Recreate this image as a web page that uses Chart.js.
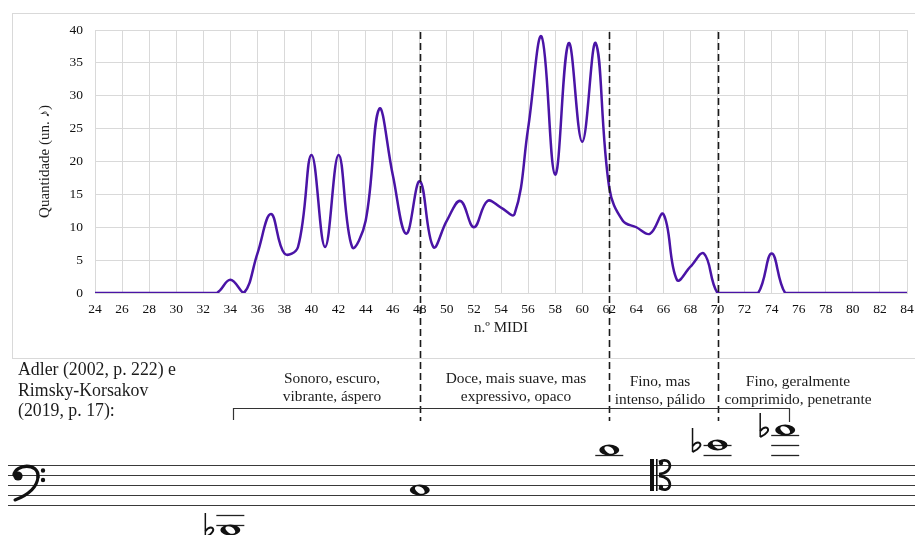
<!DOCTYPE html>
<html lang="pt">
<head>
<meta charset="utf-8">
<script src="https://cdn.jsdelivr.net/npm/chart.js@4.4.1/dist/chart.umd.min.js"></script>
<style>
  html, body { margin: 0; padding: 0; background: #fff; }
  canvas { display: block; }
</style>
</head>
<body>
<canvas id="c" width="915" height="535"></canvas>
<script>
// MIDI note numbers on the horizontal axis
const midiNumbers = [24, 25, 26, 27, 28, 29, 30, 31, 32, 33, 34, 35, 36, 37, 38, 39, 40, 41, 42, 43, 44,
  45, 46, 47, 48, 49, 50, 51, 52, 53, 54, 55, 56, 57, 58, 59, 60, 61, 62, 63, 64, 65, 66, 67, 68, 69, 70,
  71, 72, 73, 74, 75, 76, 77, 78, 79, 80, 81, 82, 83, 84];

// quantity of notes found at each MIDI number
const noteCounts = [0, 0, 0, 0, 0, 0, 0, 0, 0, 0, 2, 0, 6, 12, 6, 7, 21, 7, 21, 7, 11,
  28, 18, 9, 17, 7, 11, 14, 10, 14, 13, 12, 25, 39, 18, 38, 23, 38, 16, 11, 10, 9, 12, 2, 4, 6, 0,
  0, 0, 0, 6, 0, 0, 0, 0, 0, 0, 0, 0, 0, 0];

// register boundaries (MIDI numbers)
const registerBounds = [48, 62, 70];

// timbre description for each register
const registerLabels = [
  ['Sonoro, escuro,', 'vibrante, áspero'],
  ['Doce, mais suave, mas', 'expressivo, opaco'],
  ['Fino, mas', 'intenso, pálido'],
  ['Fino, geralmente', 'comprimido, penetrante']
];

const sourceLines = ['Adler (2002, p. 222) e', 'Rimsky-Korsakov', '(2019, p. 17):'];

// range notes: MIDI number, staff step (half-spaces below top line), flat sign
const rangeMidi = [34, 48, 62, 70, 75];
const rangeSteps = [13, 5, -3, -4, -7];
const rangeFlats = [true, false, false, true, true];

const SERIF = '"Liberation Serif", "Times New Roman", serif';
const INK = '#1c1c1c';

function wholeNote(ctx, x, y) {
  ctx.beginPath();
  ctx.ellipse(x, y, 10, 5.4, 0, 0, Math.PI * 2);
  const r = 0.55;
  ctx.moveTo(x + 5.4 * Math.cos(r), y + 5.4 * Math.sin(r));
  ctx.ellipse(x, y, 5.4, 3.1, r, 0, Math.PI * 2);
  ctx.fill('evenodd');
}

function flatSign(ctx, x, y) {
  ctx.save();
  ctx.lineWidth = 1.5;
  ctx.beginPath();
  ctx.moveTo(x, y - 17);
  ctx.lineTo(x, y + 7);
  ctx.stroke();
  ctx.lineWidth = 2;
  ctx.beginPath();
  ctx.moveTo(x, y + 1);
  ctx.bezierCurveTo(x + 5, y - 5, x + 10, y - 2, x + 7, y + 2);
  ctx.quadraticCurveTo(x + 5, y + 5, x, y + 7);
  ctx.stroke();
  ctx.restore();
}

function bassClef(ctx, x, y) {
  // x: left edge, y: F line
  ctx.save();
  ctx.lineCap = 'round';
  ctx.beginPath();
  ctx.arc(x + 10, y + 1, 4.6, 0, Math.PI * 2);
  ctx.fill();
  ctx.lineWidth = 3.4;
  ctx.beginPath();
  ctx.moveTo(x + 6, y);
  ctx.bezierCurveTo(x + 7, y - 11, x + 31, y - 13, x + 30, y + 2);
  ctx.stroke();
  ctx.lineWidth = 3.0;
  ctx.beginPath();
  ctx.moveTo(x + 30, y + 2);
  ctx.bezierCurveTo(x + 29, y + 13, x + 20, y + 20, x + 7, y + 25);
  ctx.stroke();
  ctx.beginPath();
  ctx.arc(x + 35, y - 4.5, 2.2, 0, Math.PI * 2);
  ctx.arc(x + 35, y + 5, 2.2, 0, Math.PI * 2);
  ctx.fill();
  ctx.restore();
}

function tenorClef(ctx, x, y) {
  // x: left edge, y: C line
  ctx.save();
  ctx.fillRect(x, y - 16, 4, 32);
  ctx.fillRect(x + 6, y - 16, 1.6, 32);
  ctx.lineWidth = 2.6;
  ctx.beginPath();
  ctx.moveTo(x + 9, y - 13);
  ctx.bezierCurveTo(x + 22, y - 20, x + 25, y - 2, x + 9, y - 1);
  ctx.moveTo(x + 9, y + 13);
  ctx.bezierCurveTo(x + 22, y + 20, x + 25, y + 2, x + 9, y + 1);
  ctx.stroke();
  ctx.beginPath();
  ctx.arc(x + 11, y - 12, 2.2, 0, Math.PI * 2);
  ctx.arc(x + 11, y + 12, 2.2, 0, Math.PI * 2);
  ctx.fill();
  ctx.restore();
}

const figureExtras = {
  id: 'figureExtras',
  beforeDraw(chart) {
    const ctx = chart.ctx;
    ctx.save();
    ctx.fillStyle = '#fff';
    ctx.fillRect(0, 0, chart.width, chart.height);
    ctx.strokeStyle = '#d9d9d9';
    ctx.lineWidth = 1;
    ctx.strokeRect(12.5, 13.5, 920, 345);
    ctx.restore();
  },
  afterDraw(chart) {
    const ctx = chart.ctx;
    const xs = chart.scales.x;
    const area = chart.chartArea;
    ctx.save();

    // axis titles
    ctx.fillStyle = INK;
    ctx.font = '15px ' + SERIF;
    ctx.textAlign = 'center';
    ctx.textBaseline = 'middle';
    ctx.fillText('n.º MIDI', (area.left + area.right) / 2, 328);
    ctx.save();
    ctx.translate(45, (area.top + area.bottom) / 2);
    ctx.rotate(-Math.PI / 2);
    ctx.fillText('Quantidade (un. ♪)', 0, 0);
    ctx.restore();

    // register boundaries
    ctx.strokeStyle = '#1a1a1a';
    ctx.lineWidth = 1.6;
    ctx.setLineDash([7, 4]);
    registerBounds.forEach(m => {
      const x = Math.round(xs.getPixelForValue(m)) + 0.5;
      ctx.beginPath();
      ctx.moveTo(x, area.top + 2);
      ctx.lineTo(x, 421);
      ctx.stroke();
    });
    ctx.setLineDash([]);

    // source
    ctx.font = '17.8px ' + SERIF;
    ctx.textAlign = 'left';
    const srcY = [370, 391, 411];
    sourceLines.forEach((t, i) => ctx.fillText(t, 18, srcY[i]));

    // register descriptions
    ctx.font = '15.4px ' + SERIF;
    ctx.textAlign = 'center';
    const labelX = [332, 516, 660, 798];
    const labelY = [[379, 397], [379, 397], [382, 400], [382, 400]];
    registerLabels.forEach((lines, i) => {
      lines.forEach((t, j) => ctx.fillText(t, labelX[i], labelY[i][j]));
    });

    // bracket spanning the range
    const bx0 = Math.round(xs.getPixelForValue(rangeMidi[0])) + 3.5;
    const bx1 = Math.round(xs.getPixelForValue(rangeMidi[rangeMidi.length - 1])) + 4.5;
    ctx.strokeStyle = '#333';
    ctx.lineWidth = 1.2;
    ctx.beginPath();
    ctx.moveTo(bx0, 420);
    ctx.lineTo(bx0, 408.5);
    ctx.lineTo(bx1, 408.5);
    ctx.lineTo(bx1, 422);
    ctx.stroke();

    // staff
    const staffTop = 465, gap = 10;
    ctx.strokeStyle = '#3a3a3a';
    ctx.lineWidth = 1.2;
    for (let i = 0; i < 5; i++) {
      ctx.beginPath();
      ctx.moveTo(8, staffTop + i * gap + 0.5);
      ctx.lineTo(915, staffTop + i * gap + 0.5);
      ctx.stroke();
    }
    ctx.fillStyle = '#111';
    ctx.strokeStyle = '#111';
    bassClef(ctx, 8, staffTop + gap);
    tenorClef(ctx, 650, staffTop + gap);

    // range notes
    rangeMidi.forEach((m, i) => {
      const x = xs.getPixelForValue(m);
      const step = rangeSteps[i];
      const y = staffTop + step * gap / 2;
      ctx.strokeStyle = '#222';
      ctx.lineWidth = 1.3;
      const ledgers = [];
      if (step < 0) for (let s = -2; s >= step; s -= 2) ledgers.push(s);
      if (step > 8) for (let s = 10; s <= step; s += 2) ledgers.push(s);
      ledgers.forEach(s => {
        const ly = staffTop + s * gap / 2 + 0.5;
        ctx.beginPath();
        ctx.moveTo(x - 14, ly);
        ctx.lineTo(x + 14, ly);
        ctx.stroke();
      });
      ctx.fillStyle = '#111';
      wholeNote(ctx, x, y);
      if (rangeFlats[i]) {
        ctx.strokeStyle = '#111';
        flatSign(ctx, x - 25, y);
      }
    });
    ctx.restore();
  }
};

const tickFont = { family: SERIF, size: 13.5 };

new Chart(document.getElementById('c'), {
  type: 'line',
  data: {
    datasets: [{
      data: midiNumbers.map((m, i) => ({ x: m, y: noteCounts[i] })),
      borderColor: '#4A14A6',
      borderWidth: 2.5,
      pointRadius: 0,
      tension: 0.4,
      fill: false
    }]
  },
  options: {
    responsive: false,
    animation: false,
    devicePixelRatio: 1,
    layout: { padding: { top: 30, right: 8, left: 0, bottom: 0 } },
    plugins: { legend: { display: false }, tooltip: { enabled: false } },
    scales: {
      x: {
        type: 'linear', min: 24, max: 84,
        ticks: { stepSize: 2, padding: 8, color: '#111', font: tickFont, maxRotation: 0, autoSkip: false },
        grid: { color: '#d9d9d9', drawTicks: false },
        border: { color: '#d9d9d9' },
        afterFit(s) { s.height = 242; s.paddingLeft = 0; s.paddingRight = 0; }
      },
      y: {
        min: 0, max: 40,
        ticks: { stepSize: 5, padding: 12, color: '#111', font: tickFont },
        grid: { color: '#d9d9d9', drawTicks: false },
        border: { color: '#d9d9d9' },
        afterFit(s) { s.width = 95; s.paddingTop = 0; s.paddingBottom = 0; }
      }
    }
  },
  plugins: [figureExtras]
});
</script>
</body>
</html>
